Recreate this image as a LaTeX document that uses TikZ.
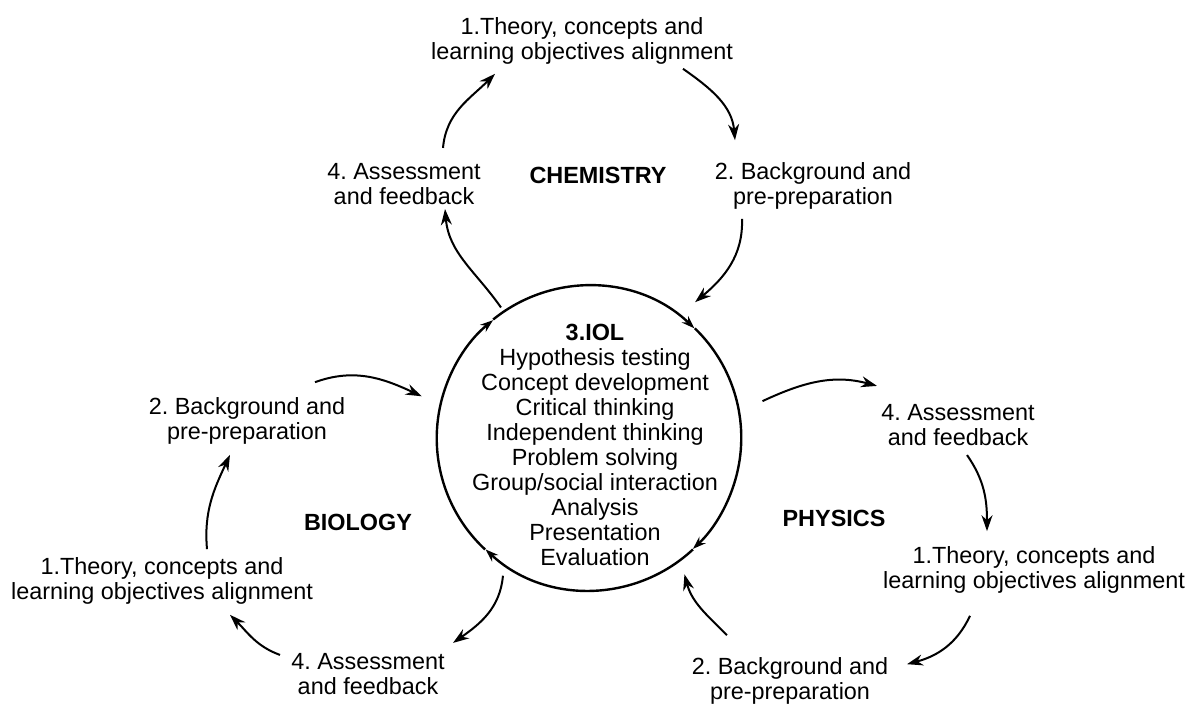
\documentclass[tikz,border=0pt]{standalone}
\usepackage{fontspec}
\setmainfont{Liberation Sans}
\usepackage{tikz}
\usetikzlibrary{calc,arrows.meta}
\frenchspacing
\tikzstyle{stagetext}=[align=center,inner sep=0pt,
                       font=\fontsize{11.7}{12.5}\selectfont]
\tikzstyle{subjecttext}=[inner sep=0pt,
                         font=\fontsize{11.7}{12.5}\selectfont\bfseries]
\tikzstyle{cyclearrow}=[line width=1pt,-{Stealth[length=8pt,width=5.5pt]}]
\tikzstyle{ringarrow}=[line width=1.2pt,-{Stealth[length=6.5pt,width=4.5pt]}]
\newcommand\stagelabel[2]{#1\\ #2}
\newcommand\ringradius{76pt}

\begin{document}
\begin{tikzpicture}[x=0.5pt,y=-0.5pt]
    	\useasboundingbox (0,0) rectangle (1190,704);
    	% centre ring
    	\node [circle,minimum size=152pt,inner sep=0pt] (ring) at (589,438) {};
    	\node [stagetext] (iol) at (595,445) {
    		\textbf{3.IOL}\\ Hypothesis testing\\ Concept development\\
    		Critical thinking\\ Independent thinking\\ Problem solving\\
    		Group/social interaction\\ Analysis\\ Presentation\\ Evaluation
    	};
    	\draw [ringarrow] (ring.227) arc[start angle=227,end angle=129,radius=\ringradius];
    	\draw [ringarrow] (ring.129) arc[start angle=129,end angle=46,radius=\ringradius];
    	\draw [ringarrow] (ring.46) arc[start angle=46,end angle=-47,radius=\ringradius];
    	\draw [ringarrow] (ring.-47) arc[start angle=-47,end angle=-133,radius=\ringradius];
    	% chemistry
    	\node [stagetext] (chem1) at (582,41) {
    		\stagelabel{1.Theory, concepts and}{learning objectives alignment}
    	};
    	\node [stagetext] (chem2) at (813,186) {
    		\stagelabel{2. Background and}{pre-preparation}
    	};
    	\node [stagetext] (chem4) at (404,184) {
    		\stagelabel{4. Assessment}{and feedback}
    	};
    	\node [subjecttext] (chem) at (598,175) {CHEMISTRY};
    	\draw [cyclearrow] ([shift={(39,-15)}]chem4.north) to[out=85,in=225] ([shift={(-87,9)}]chem1.south);
    	\draw [cyclearrow] ([shift={(101,4)}]chem1.south) to[out=-35,in=95] ([shift={(-78,-22)}]chem2.north);
    	\draw [cyclearrow] ([shift={(-71,9)}]chem2.south) to[out=-88,in=40] ([shift={(52:10pt)}]ring.52);
    	\draw [cyclearrow] ([shift={(124:2.5pt)}]ring.124) to[out=125,in=-85] ([shift={(41,4)}]chem4.south);
    	% biology
    	\node [stagetext] (bio2) at (247,421) {
    		\stagelabel{2. Background and}{pre-preparation}
    	};
    	\node [stagetext] (bio1) at (162,581) {
    		\stagelabel{1.Theory, concepts and}{learning objectives alignment}
    	};
    	\node [stagetext] (bio4) at (368,674) {
    		\stagelabel{4. Assessment}{and feedback}
    	};
    	\node [subjecttext] (bio) at (358,522) {BIOLOGY};
    	\draw [cyclearrow] ([shift={(68,-15)}]bio2.north) to[out=20,in=155] ([shift={(166:10pt)}]ring.166);
    	\draw [cyclearrow] ([shift={(238:5pt)}]ring.238) to[out=-95,in=35] ([shift={(85,-10)}]bio4.north);
    	\draw [cyclearrow] ([shift={(-88,2)}]bio4.north) to[out=160,in=-45] ([shift={(68,10)}]bio1.south);
    	\draw [cyclearrow] ([shift={(45,-8)}]bio1.north) to[out=95,in=-115] ([shift={(-17,10)}]bio2.south);
    	% physics
    	\node [stagetext] (phys4) at (958,425) {
    		\stagelabel{4. Assessment}{and feedback}
    	};
    	\node [stagetext] (phys1) at (1034,570) {
    		\stagelabel{1.Theory, concepts and}{learning objectives alignment}
    	};
    	\node [stagetext] (phys2) at (790,681) {
    		\stagelabel{2. Background and}{pre-preparation}
    	};
    	\node [subjecttext] (phys) at (834,518) {PHYSICS};
    	\draw [cyclearrow] ([shift={(12:12.5pt)}]ring.12) to[out=25,in=165] ([shift={(-81,-18)}]phys4.north);
    	\draw [cyclearrow] ([shift={(9,9)}]phys4.south) to[out=-55,in=90] ([shift={(-47,-15)}]phys1.north);
    	\draw [cyclearrow] ([shift={(-64,22)}]phys1.south) to[out=-115,in=15] ([shift={(117,7)}]phys2.north);
    	\draw [cyclearrow] ([shift={(-63,-22)}]phys2.north) to[out=135,in=-75] ([shift={(-55:7pt)}]ring.-55);
    \end{tikzpicture}
\end{document}
